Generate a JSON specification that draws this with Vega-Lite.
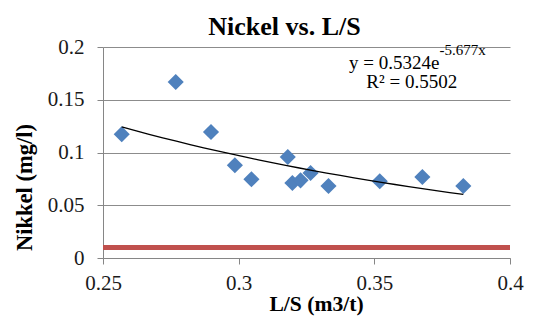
{
  "$schema": "https://vega.github.io/schema/vega-lite/v6.json",
  "width": 407,
  "height": 211,
  "autosize": {"type": "none"},
  "padding": {"left": 103, "top": 47, "right": 26, "bottom": 62},
  "background": "white",
  "config": {"view": {"stroke": null}},
  "data": {"values": [
    {"ls": 0.2569, "nickel": 0.1173},
    {"ls": 0.2768, "nickel": 0.1668},
    {"ls": 0.2898, "nickel": 0.1194},
    {"ls": 0.2986, "nickel": 0.0879},
    {"ls": 0.3047, "nickel": 0.0746},
    {"ls": 0.3181, "nickel": 0.0957},
    {"ls": 0.3198, "nickel": 0.0711},
    {"ls": 0.3228, "nickel": 0.0736},
    {"ls": 0.3265, "nickel": 0.0806},
    {"ls": 0.3331, "nickel": 0.0682},
    {"ls": 0.3520, "nickel": 0.0727},
    {"ls": 0.3677, "nickel": 0.0768},
    {"ls": 0.3828, "nickel": 0.0682}
  ]},
  "layer": [
    {
      "mark": {"type": "rule", "color": "#C0504D", "strokeWidth": 5},
      "encoding": {"y": {"datum": 0.01, "type": "quantitative"}}
    },
    {
      "mark": {"type": "point", "shape": "diamond", "filled": true, "size": 260, "color": "#4F81BD", "opacity": 1},
      "encoding": {
        "x": {"field": "ls", "type": "quantitative",
          "scale": {"domain": [0.25, 0.4], "nice": false, "zero": false},
          "axis": {"values": [0.25, 0.3, 0.35, 0.4], "format": "~g", "grid": false,
            "domainColor": "#868686", "tickColor": "#868686", "tickSize": 6,
            "labelFont": "Liberation Serif", "labelFontSize": 21, "labelColor": "#1a1a1a", "labelPadding": 8,
            "labelFlush": false, "labelOverlap": false,
            "title": "L/S (m3/t)", "titleFont": "Liberation Serif", "titleFontSize": 21.6, "titleFontWeight": "bold", "titleColor": "black",
            "titleX": 213, "titleY": 52, "titleAlign": "center", "titleBaseline": "alphabetic"}},
        "y": {"field": "nickel", "type": "quantitative",
          "scale": {"domain": [0, 0.2], "nice": false, "zero": true},
          "axis": {"values": [0, 0.05, 0.1, 0.15, 0.2], "format": "~g", "grid": true, "gridColor": "#8c8c8c", "gridWidth": 1,
            "domainColor": "#868686", "tickColor": "#868686", "tickSize": 6,
            "labelFont": "Liberation Serif", "labelFontSize": 21, "labelColor": "#1a1a1a", "labelPadding": 13, "labelOverlap": false,
            "title": "Nikkel (mg/l)", "titleFont": "Liberation Serif", "titleFontSize": 22.5, "titleFontWeight": "bold", "titleColor": "black",
            "titleX": -79, "titleY": 140, "titleAngle": -90, "titleAlign": "center", "titleBaseline": "middle"}}
      }
    },
    {
      "transform": [
        {"calculate": "log(datum.nickel)", "as": "lnNickel"},
        {"regression": "lnNickel", "on": "ls", "method": "poly", "order": 1, "extent": [0.2569, 0.3828]},
        {"calculate": "exp(datum.lnNickel)", "as": "trend"}
      ],
      "mark": {"type": "line", "color": "black", "strokeWidth": 1.3},
      "encoding": {
        "x": {"field": "ls", "type": "quantitative"},
        "y": {"field": "trend", "type": "quantitative"}
      }
    },
    {
      "data": {"values": [{"label": "Nickel vs. L/S"}]},
      "mark": {"type": "text", "font": "Liberation Serif", "fontSize": 26, "fontWeight": "bold", "align": "center", "baseline": "alphabetic", "color": "black"},
      "encoding": {
        "x": {"datum": 0.3169, "type": "quantitative"},
        "y": {"datum": 0.2111, "type": "quantitative"},
        "text": {"field": "label"}
      }
    },
    {
      "data": {"values": [{"label": "y = 0.5324e"}]},
      "mark": {"type": "text", "font": "Liberation Serif", "fontSize": 19, "align": "right", "baseline": "alphabetic", "color": "black"},
      "encoding": {
        "x": {"datum": 0.374, "type": "quantitative"},
        "y": {"datum": 0.1795, "type": "quantitative"},
        "text": {"field": "label"}
      }
    },
    {
      "data": {"values": [{"label": "-5.677x"}]},
      "mark": {"type": "text", "font": "Liberation Serif", "fontSize": 15, "align": "left", "baseline": "alphabetic", "color": "black"},
      "encoding": {
        "x": {"datum": 0.374, "type": "quantitative"},
        "y": {"datum": 0.1921, "type": "quantitative"},
        "text": {"field": "label"}
      }
    },
    {
      "data": {"values": [{"label": "R² = 0.5502"}]},
      "mark": {"type": "text", "font": "Liberation Serif", "fontSize": 19, "align": "center", "baseline": "alphabetic", "color": "black"},
      "encoding": {
        "x": {"datum": 0.3638, "type": "quantitative"},
        "y": {"datum": 0.1615, "type": "quantitative"},
        "text": {"field": "label"}
      }
    }
  ]
}
